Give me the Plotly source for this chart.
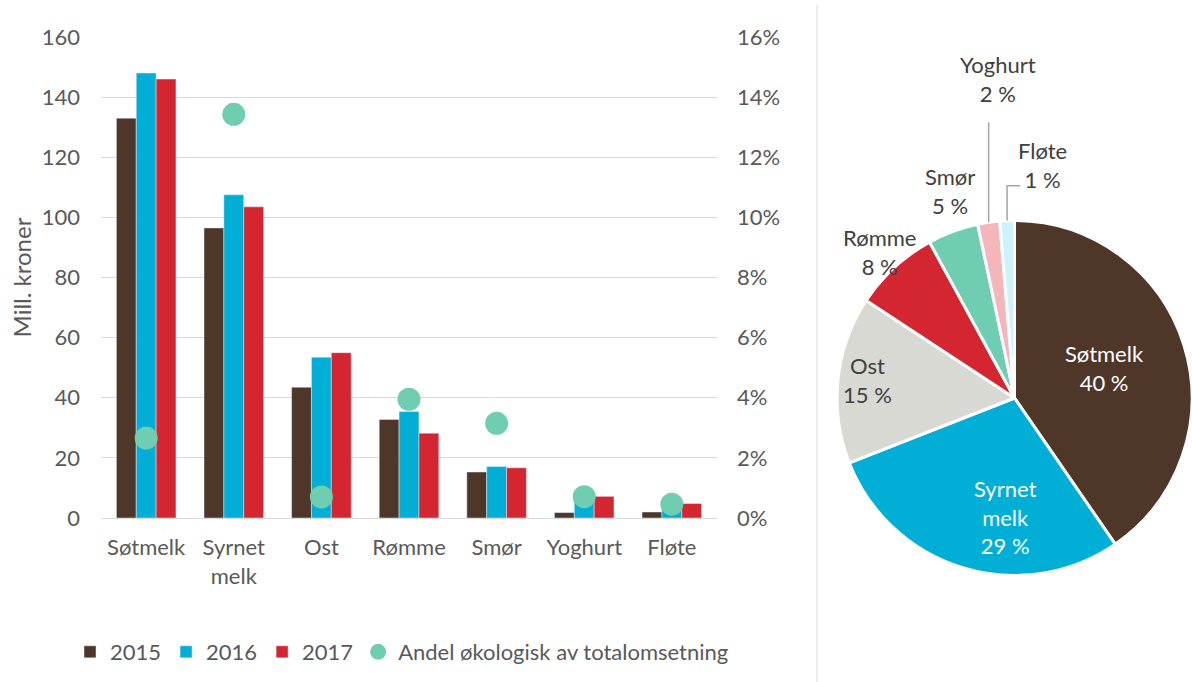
import math
import plotly.graph_objects as go

categories = ["Søtmelk", "Syrnet<br>melk", "Ost", "Rømme", "Smør", "Yoghurt", "Fløte"]
v2015 = [133, 96.5, 43.5, 32.8, 15.3, 1.8, 2.0]
v2016 = [148, 107.5, 53.5, 35.4, 17.1, 5.5, 4.0]
v2017 = [146, 103.5, 55, 28.2, 16.7, 7.2, 4.8]
andel = [0.0266, 0.1343, 0.0070, 0.0395, 0.0315, 0.0071, 0.0046]

pie_labels = ["Søtmelk", "Syrnet<br>melk", "Ost", "Rømme", "Smør", "Yoghurt", "Fløte"]
pie_values = v2017
pie_colors = ["#4E3629", "#00AED6", "#D9D9D4", "#D32630", "#6FCDB2", "#F4B6BB", "#CFF1FA"]

C15, C16, C17, CDOT = "#4E3629", "#00AED6", "#D32630", "#6FCDB2"
FONT = "Lato"
TXT = "#595959"
PIETXT = "#404040"
FS = 22
W, H = 1192, 682

total = sum(pie_values)
pct_text = [f"{round(v / total * 100)} %" for v in pie_values]

fig = go.Figure()
fig.add_trace(go.Bar(x=categories, y=v2015, name="2015", marker_color=C15))
fig.add_trace(go.Bar(x=categories, y=v2016, name="2016", marker_color=C16))
fig.add_trace(go.Bar(x=categories, y=v2017, name="2017", marker_color=C17))
fig.add_trace(go.Scatter(x=categories, y=andel, name="Andel økologisk av totalomsetning",
                         mode="markers", yaxis="y2",
                         marker=dict(color=CDOT, size=23)))

# pie geometry (pixels)
pie_x0, pie_x1 = 837, W
pie_yc = 398
r = (pie_x1 - pie_x0) / 2
cx = (pie_x0 + pie_x1) / 2
pie_dom_y = [(H - (pie_yc + r)) / H, (H - (pie_yc - r)) / H]

fig.add_trace(go.Pie(
    labels=pie_labels, values=pie_values, text=pct_text,
    sort=False, direction="clockwise", rotation=0, showlegend=False,
    marker=dict(colors=pie_colors, line=dict(color="white", width=3)),
    textinfo="none",
    domain=dict(x=[pie_x0 / W, 1.0], y=pie_dom_y),
    hoverinfo="label+percent",
))

# label placement per slice: (radial factor, dx, dy, leader)
# leader: None, ("v", length) vertical line, ("elbow", up, right)
placement = [
    (0.53, 0, -2, None),
    (0.68, 26, 4, None),
    (0.83, 0, -3, None),
    (1.0, -15, -15, None),
    (1.0, -3, -40, None),
    (1.0, 9, -143, ("v", 100)),
    (1.0, 35, -56, ("elbow", 35, 13)),
]
label_colors = ["white", "white"] + [PIETXT] * 5

def to_paper(x, y):
    return x / W, 1 - y / H

annotations, shapes = [], []
cum = 0.0
for i, v in enumerate(pie_values):
    frac = v / total
    mid = (cum + frac / 2) * 2 * math.pi
    cum += frac
    k, dx, dy, leader = placement[i]
    ex = cx + r * math.sin(mid)
    ey = pie_yc - r * math.cos(mid)
    lx = cx + k * r * math.sin(mid) + dx
    ly = pie_yc - k * r * math.cos(mid) + dy
    ax_, ay_ = to_paper(lx, ly)
    annotations.append(dict(xref="paper", yref="paper", x=ax_, y=ay_,
                            xanchor="center", yanchor="middle", showarrow=False,
                            text=f"{pie_labels[i]}<br>{pct_text[i]}", align="center",
                            font=dict(family=FONT, size=FS, color=label_colors[i])))
    if leader is not None:
        if leader[0] == "v":
            pts = [(ex, ey), (ex, ey - leader[1])]
        else:
            pts = [(ex, ey), (ex, ey - leader[1]), (ex + leader[2], ey - leader[1])]
        pp = [to_paper(*p) for p in pts]
        path = "M " + " L ".join(f"{px:.5f},{py:.5f}" for px, py in pp)
        shapes.append(dict(type="path", xref="paper", yref="paper", path=path,
                           line=dict(color="#A6A6A6", width=1.5)))

shapes.append(dict(type="line", xref="paper", yref="paper", x0=817 / W, x1=817 / W,
                   y0=0, y1=677 / H, line=dict(color="#D9D9D9", width=1)))

fig.update_layout(
    width=W, height=H,
    margin=dict(l=0, r=0, t=0, b=0, autoexpand=False),
    paper_bgcolor="white", plot_bgcolor="white",
    font=dict(family=FONT, size=FS, color=TXT),
    barmode="group", bargap=0.32, bargroupgap=0,
    xaxis=dict(domain=[101 / W, 717 / W], showgrid=False, tickfont=dict(size=FS, color=TXT),
               showline=True, linecolor="#D9D9D9", linewidth=1, ticks="",
               ticklabelstandoff=10),
    yaxis=dict(domain=[164 / H, 645 / H], range=[0, 160], dtick=20,
               gridcolor="#D9D9D9", gridwidth=1, zeroline=False,
               title=dict(text="Mill. kroner", font=dict(size=24, color=TXT), standoff=3),
               tickfont=dict(size=FS, color=TXT), ticklabelstandoff=20),
    yaxis2=dict(overlaying="y", side="right", range=[0, 0.16], dtick=0.02,
                tickformat=".0%", showgrid=False, zeroline=False,
                tickfont=dict(size=FS, color=TXT), anchor="x", ticklabelstandoff=19),
    legend=dict(orientation="h", x=70 / W, y=30 / H, yanchor="middle", xanchor="left",
                font=dict(size=FS, color=TXT), itemwidth=30, traceorder="normal"),
    shapes=shapes,
    annotations=annotations,
)

fig.write_html("out.html", post_script="document.body.style.margin='0px';",
               config={"displayModeBar": False})
